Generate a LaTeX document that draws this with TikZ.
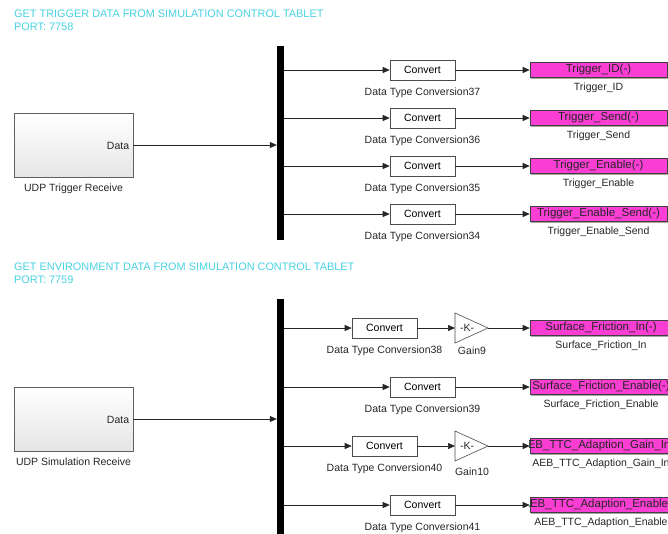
\documentclass[tikz,border=0pt]{standalone}
\usepackage{fontspec}
\setmainfont{Liberation Sans}
\usetikzlibrary{arrows.meta,shadows}

\definecolor{tabletcyan}{RGB}{72,210,226}
\definecolor{gotopink}{RGB}{250,62,212}

\begin{document}
\begin{tikzpicture}[x=1pt,y=-1pt,
  lbl/.style={font=\fontsize{10.5}{12}\selectfont,inner sep=0pt,anchor=base,text=black!85},
  title/.style={font=\fontsize{10.9}{13}\selectfont,inner sep=0pt,anchor=base west,text=tabletcyan},
  sig/.style={draw=black!85,line width=0.6pt,-{Triangle[length=7pt,width=6pt]}},
  blkshadow/.style={drop shadow={shadow xshift=1.2pt,shadow yshift=-1.2pt,fill=black,opacity=0.35}},
  udpblock/.style={draw=gray!75!black,line width=0.6pt,top color=white,bottom color=gray!20,
    minimum width=119pt,minimum height=64pt,inner sep=0pt,blkshadow},
  bus/.style={fill=black,minimum width=7pt,inner sep=0pt},
  convert/.style={draw=black!70,line width=0.6pt,fill=white,minimum width=65pt,minimum height=20pt,
    inner sep=0pt,font=\fontsize{10.5}{12}\selectfont,blkshadow},
  gotoblock/.style={draw=black!75,line width=0.6pt,fill=gotopink,minimum height=15pt,inner sep=0pt,
    font=\fontsize{11.5}{13}\selectfont,text=black!85,blkshadow},
  gain/.style={draw=black!70,line width=0.6pt,fill=white}]
  \useasboundingbox (0,0) rectangle (668,533);
  \clip (0,0) rectangle (668,533);

  % ---- trigger data, port 7758 ----
  \node[title] at (14,17) {GET TRIGGER DATA FROM SIMULATION CONTROL TABLET};
  \node[title] at (14,30) {PORT: 7758};

  \node[udpblock] (udpTrig) at (73.5,145) {};
  \node[lbl,anchor=base east] at ([xshift=-4pt,yshift=-4pt]udpTrig.east) {Data};
  \node[lbl] at ([yshift=-14pt]udpTrig.south) {UDP Trigger Receive};

  \node[bus,minimum height=194pt] (busTrig) at (280.5,143) {};
  \draw[sig] (udpTrig.east) -- (udpTrig.east -| busTrig.west);

  \node[convert] (dtc37) at (422.5,70) {Convert};
  \node[convert] (dtc36) at (422.5,118) {Convert};
  \node[convert] (dtc35) at (422.5,166) {Convert};
  \node[convert] (dtc34) at (422.5,214) {Convert};
  \node[lbl] at ([yshift=-15pt]dtc37.south) {Data Type Conversion37};
  \node[lbl] at ([yshift=-15pt]dtc36.south) {Data Type Conversion36};
  \node[lbl] at ([yshift=-15pt]dtc35.south) {Data Type Conversion35};
  \node[lbl] at ([yshift=-15pt]dtc34.south) {Data Type Conversion34};

  \node[gotoblock,minimum width=137pt] (gtID) at (598.5,70) {Trigger\_ID(-)};
  \node[gotoblock,minimum width=137pt] (gtSend) at (598.5,118) {Trigger\_Send(-)};
  \node[gotoblock,minimum width=137pt] (gtEnable) at (598.5,166) {Trigger\_Enable(-)};
  \node[gotoblock,minimum width=137pt] (gtEnSend) at (598.5,214) {Trigger\_Enable\_Send(-)};
  \node[lbl] at ([yshift=-13pt]gtID.south) {Trigger\_ID};
  \node[lbl] at ([yshift=-13pt]gtSend.south) {Trigger\_Send};
  \node[lbl] at ([yshift=-13pt]gtEnable.south) {Trigger\_Enable};
  \node[lbl] at ([yshift=-13pt]gtEnSend.south) {Trigger\_Enable\_Send};

  \draw[sig] (busTrig.east |- dtc37.west) -- (dtc37.west);
  \draw[sig] (busTrig.east |- dtc36.west) -- (dtc36.west);
  \draw[sig] (busTrig.east |- dtc35.west) -- (dtc35.west);
  \draw[sig] (busTrig.east |- dtc34.west) -- (dtc34.west);
  \draw[sig] (dtc37.east) -- (gtID.west);
  \draw[sig] (dtc36.east) -- (gtSend.west);
  \draw[sig] (dtc35.east) -- (gtEnable.west);
  \draw[sig] (dtc34.east) -- (gtEnSend.west);

  % ---- environment data, port 7759 ----
  \node[title] at (14,270) {GET ENVIRONMENT DATA FROM SIMULATION CONTROL TABLET};
  \node[title] at (14,283) {PORT: 7759};

  \node[udpblock] (udpSim) at (73.5,419) {};
  \node[lbl,anchor=base east] at ([xshift=-4pt,yshift=-4pt]udpSim.east) {Data};
  \node[lbl] at ([yshift=-14pt]udpSim.south) {UDP Simulation Receive};

  \node[bus,minimum height=245pt] (busSim) at (280.5,421.5) {};
  \draw[sig] (udpSim.east) -- (udpSim.east -| busSim.west);

  \node[convert] (dtc38) at (384.5,328) {Convert};
  \node[convert] (dtc39) at (422.5,387) {Convert};
  \node[convert] (dtc40) at (384.5,446) {Convert};
  \node[convert] (dtc41) at (422.5,505) {Convert};
  \node[lbl] at ([yshift=-15pt]dtc38.south) {Data Type Conversion38};
  \node[lbl] at ([yshift=-15pt]dtc39.south) {Data Type Conversion39};
  \node[lbl] at ([yshift=-15pt]dtc40.south) {Data Type Conversion40};
  \node[lbl] at ([yshift=-15pt]dtc41.south) {Data Type Conversion41};

  % gains drawn as plain triangles
  \coordinate (gain9in) at (455,328);
  \coordinate (gain9out) at (488,328);
  \draw[gain] (gain9in) -- ++(0,-15) -- (gain9out) -- ++(-33,15) -- cycle;
  \node[lbl,anchor=center] at ([xshift=12pt]gain9in) {-K-};
  \node[lbl] at (472,354) {Gain9};
  \coordinate (gain10in) at (455,446);
  \coordinate (gain10out) at (488,446);
  \draw[gain] (gain10in) -- ++(0,-15) -- (gain10out) -- ++(-33,15) -- cycle;
  \node[lbl,anchor=center] at ([xshift=12pt]gain10in) {-K-};
  \node[lbl] at (472,475) {Gain10};

  \node[gotoblock,minimum width=142pt] (gtFricIn) at (601,328) {Surface\_Friction\_In(-)};
  \node[gotoblock,minimum width=142pt] (gtFricEn) at (601,387) {Surface\_Friction\_Enable(-)};
  \node[gotoblock,minimum width=142pt] (gtTTCGain) at (601,446) {};
  \node[gotoblock,minimum width=142pt] (gtTTCEn) at (601,505) {};
  % these two names are wider than their blocks, so cut them at the border
  \begin{scope}
    \clip (gtTTCGain.north west) rectangle (gtTTCGain.south east);
    \node[font=\fontsize{11.5}{13}\selectfont,text=black!85,inner sep=0pt] at (gtTTCGain) {AEB\_TTC\_Adaption\_Gain\_In(-)};
  \end{scope}
  \begin{scope}
    \clip (gtTTCEn.north west) rectangle (gtTTCEn.south east);
    \node[font=\fontsize{11.5}{13}\selectfont,text=black!85,inner sep=0pt] at (gtTTCEn) {AEB\_TTC\_Adaption\_Enable(-)};
  \end{scope}
  \node[lbl] at ([yshift=-13pt]gtFricIn.south) {Surface\_Friction\_In};
  \node[lbl] at ([yshift=-13pt]gtFricEn.south) {Surface\_Friction\_Enable};
  \node[lbl] at ([yshift=-13pt]gtTTCGain.south) {AEB\_TTC\_Adaption\_Gain\_In};
  \node[lbl] at ([yshift=-13pt]gtTTCEn.south) {AEB\_TTC\_Adaption\_Enable};

  \draw[sig] (busSim.east |- dtc38.west) -- (dtc38.west);
  \draw[sig] (busSim.east |- dtc39.west) -- (dtc39.west);
  \draw[sig] (busSim.east |- dtc40.west) -- (dtc40.west);
  \draw[sig] (busSim.east |- dtc41.west) -- (dtc41.west);
  \draw[sig] (dtc38.east) -- (gain9in);
  \draw[sig] (gain9out) -- (gtFricIn.west);
  \draw[sig] (dtc39.east) -- (gtFricEn.west);
  \draw[sig] (dtc40.east) -- (gain10in);
  \draw[sig] (gain10out) -- (gtTTCGain.west);
  \draw[sig] (dtc41.east) -- (gtTTCEn.west);
\end{tikzpicture}
\end{document}
